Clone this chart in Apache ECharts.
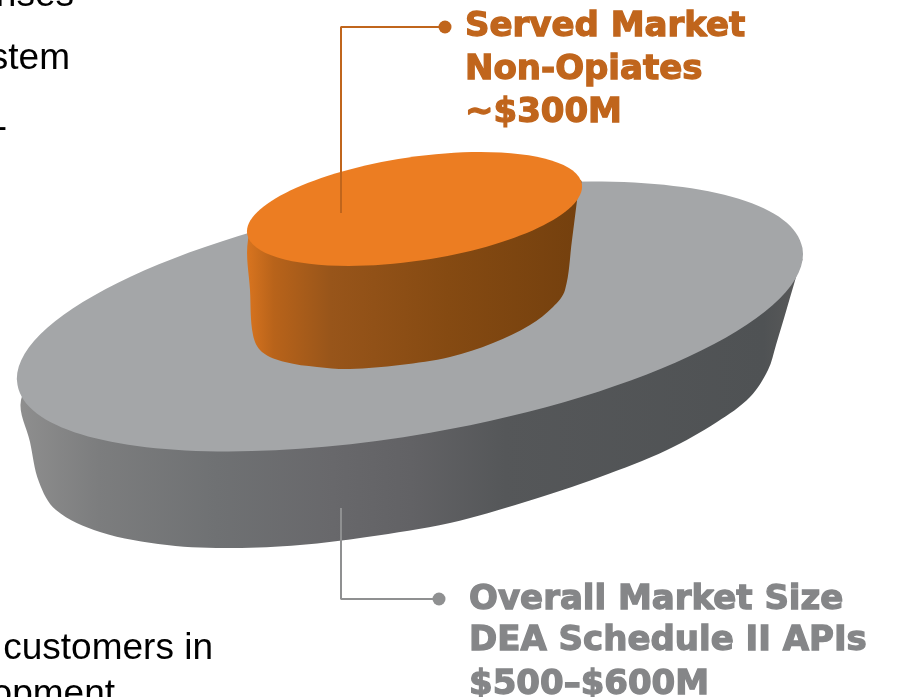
<!DOCTYPE html>
<html>
<head>
<meta charset="utf-8">
<title>Market size</title>
<script src="https://cdn.jsdelivr.net/npm/echarts@6/dist/echarts.min.js"></script>
<style>
  html, body { margin: 0; padding: 0; background: #fff; }
  #chart { width: 899px; height: 697px; overflow: hidden; }
</style>
</head>
<body>
<div id="chart"></div>
<script>
// tops are ellipses: center x, center y, long radius, short radius, tilt in degrees
const overallTop = [410, 316.5, 398.4, 118.1, 9.89];
const servedTop = [414.5, 209, 169.2, 51.9, 8.43];

// side walls: visible lower edge, the rest of each outline sits behind the top
const overallSide = [
  [21, 400], [30, 442], [39, 482], [56, 510], [100, 532], [167, 545], [233, 548], [300, 545], [367, 537], [450, 523],
  [525, 502], [600, 477], [667, 450], [717, 422], [750, 397], [768, 370], [776, 345], [787, 308], [798, 270], [801, 258],
  [600, 250], [200, 300], [45, 370],
];
const servedSide = [
  [248, 240], [250, 290], [253, 335], [262, 352], [285, 362], [317, 367], [350, 369], [400, 365], [450, 357],
  [493, 343], [530, 325], [553, 307], [565, 290], [572, 240], [578, 193], [580, 180], [400, 180], [262, 215],
];
const servedLeader = [[341, 213], [341, 27], [445, 27]];
const overallLeader = [[341, 508], [341, 599], [439, 599]];

const servedLabel = ["Served Market", "Non-Opiates", "~$300M"];
const overallLabel = ["Overall Market Size", "DEA Schedule II APIs", "$500\u2013$600M"];

const orange = "#c0651c";
const gray = "#8f9091";
const grayText = "#858688";

const chart = echarts.init(document.getElementById("chart"));

function wall(points, fill) {
  return {
    type: "custom",
    coordinateSystem: "cartesian2d",
    silent: true,
    clip: false,
    data: [[0, 0]],
    renderItem: (params, api) => ({
      type: "polygon",
      shape: { points: points.map((p) => api.coord(p)), smooth: 0.35 },
      style: { fill: fill },
    }),
  };
}

function disc(values, fill) {
  return {
    type: "custom",
    coordinateSystem: "cartesian2d",
    silent: true,
    clip: false,
    data: [values],
    renderItem: (params, api) => {
      const center = api.coord([api.value(0), api.value(1)]);
      const radii = api.size([api.value(2), api.value(3)]);
      return {
        type: "ellipse",
        x: center[0],
        y: center[1],
        rotation: (api.value(4) * Math.PI) / 180,
        shape: { cx: 0, cy: 0, rx: radii[0], ry: radii[1] },
        style: { fill: fill },
      };
    },
  };
}

function leader(points, color) {
  return {
    type: "line",
    data: points,
    silent: true,
    symbol: "none",
    lineStyle: { color: color, width: 2 },
    markPoint: {
      silent: true,
      symbol: "circle",
      symbolSize: 13,
      itemStyle: { color: color },
      label: { show: false },
      data: [{ coord: points[points.length - 1] }],
    },
  };
}

function gradient(stops) {
  return new echarts.graphic.LinearGradient(0, 0, 1, 0, stops.map((s) => ({ offset: s[0], color: s[1] })));
}

function callout(lines, x, baselines, color) {
  return lines.map((line, i) => ({
    type: "text",
    x: x,
    y: baselines[i],
    style: {
      text: line,
      fill: color,
      stroke: color,
      lineWidth: 1.3,
      font: 'bold 34px "DejaVu Sans"',
      textAlign: "left",
      textVerticalAlign: "bottom",
    },
  }));
}

function body(line, x, baseline) {
  return {
    type: "text",
    x: x,
    y: baseline,
    style: {
      text: line,
      fill: "#000",
      font: '37px "Liberation Sans"',
      textAlign: "right",
      textVerticalAlign: "bottom",
    },
  };
}

chart.setOption({
  animation: false,
  backgroundColor: "#fff",
  grid: { left: 0, right: 0, top: 0, bottom: 0 },
  xAxis: { type: "value", min: 0, max: 899, show: false },
  yAxis: { type: "value", min: 0, max: 697, inverse: true, show: false },
  series: [
    wall(overallSide, gradient([[0, "#8e8e8e"], [0.1, "#7c7d7e"], [0.25, "#6f7173"], [0.4, "#68686b"], [0.5, "#626265"], [0.62, "#555759"], [0.95, "#4f5254"], [1, "#5a5a5a"]])),
    disc(overallTop, "#a4a6a8"),
    wall(servedSide, gradient([[0, "#d8741f"], [0.08, "#b8631a"], [0.25, "#98551a"], [0.6, "#854a12"], [1, "#74400e"]])),
    disc(servedTop, "#ec7d22"),
    leader(servedLeader, orange),
    leader(overallLeader, gray),
  ],
  graphic: [
    ...callout(servedLabel, 465, [44, 87, 130], orange),
    ...callout(overallLabel, 469, [617, 658, 702], grayText),
    body("nses", 74, 14),
    body("stem", 70, 77),
    body("-", 7, 146),
    body("customers in", 213, 667),
    body("opment", 115, 713),
  ],
});
</script>
</body>
</html>
